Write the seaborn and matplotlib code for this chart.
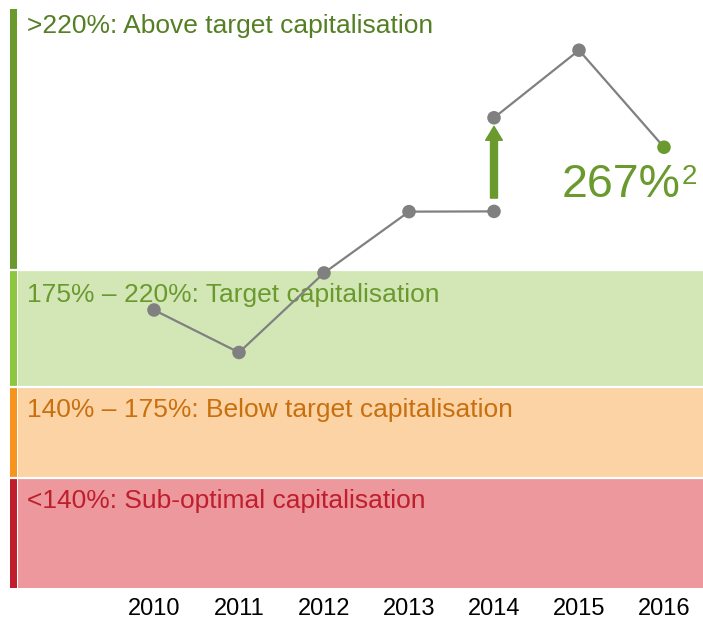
import matplotlib
matplotlib.use("Agg")
import matplotlib.pyplot as plt
import seaborn as sns
import pandas as pd

# Data
years = [2010, 2011, 2012, 2013, 2014, 2014, 2015, 2016]
ratios = [204.6, 188.3, 218.8, 242.3, 242.4, 278.3, 304.2, 267.0]
segments = ["a", "a", "a", "a", "a", "b", "b", "b"]
tick_years = [2010, 2011, 2012, 2013, 2014, 2015, 2016]
band_edges = [98, 140, 175, 220, 320]
band_labels = ["<140%: Sub-optimal capitalisation",
               "140% – 175%: Below target capitalisation",
               "175% – 220%: Target capitalisation",
               ">220%: Above target capitalisation"]
final_label = "267%"

sns.set_theme(style="white")
plt.rcParams['font.family'] = ['Liberation Sans', 'DejaVu Sans']

band_fill = ["#ec989c", "#fcd3a5", "#d3e7b6", "#ffffff"]
band_bar = ["#be1e2d", "#f7941d", "#8dc63f", "#6a9a2e"]
band_text = ["#be1e2d", "#c8700f", "#6a9a2e", "#557f24"]
green = "#6a9a2e"
gray = "#808080"

W, H = 703, 619
fig = plt.figure(figsize=(W / 100, H / 100), dpi=100)
ax = fig.add_axes([10 / W, (H - 588) / H, 693 / W, 579 / H])
xmin = 2010 - 144 / 85
xmax = 2016 + 39 / 85
ax.set_xlim(xmin, xmax)
ax.set_ylim(band_edges[0], band_edges[-1])

band_x0 = xmin + 8 / 85
bar_x1 = xmin + 7 / 85
for i in range(4):
    lo, hi = band_edges[i], band_edges[i + 1]
    ax.fill_between([band_x0, xmax], lo, hi, color=band_fill[i], lw=0, zorder=0)
    ax.fill_between([xmin, bar_x1], lo, hi, color=band_bar[i], lw=0, zorder=0)
for e in band_edges[1:-1]:
    ax.axhline(e, color="white", lw=1.6, zorder=1)

label_y = [131.5, 166.2, 210.4, 313.5]
for i in range(4):
    ax.text(xmin + 17 / 85, label_y[i], band_labels[i], color=band_text[i],
            fontsize=19, va="center", ha="left", zorder=2)

df = pd.DataFrame({"year": years, "ratio": ratios, "seg": segments})
sns.lineplot(data=df, x="year", y="ratio", units="seg", estimator=None,
             color=gray, lw=1.6, sort=False, ax=ax, zorder=3)
sns.scatterplot(data=df.iloc[:-1], x="year", y="ratio", color=gray, s=95,
                edgecolor="none", ax=ax, zorder=4)
sns.scatterplot(data=df.iloc[-1:], x="year", y="ratio", color=green, s=95,
                edgecolor="none", ax=ax, zorder=4)

ax.annotate("", xy=(2014, 275.0), xytext=(2014, 247.5),
            arrowprops=dict(width=5, headwidth=12, headlength=10,
                            color=green, shrink=0), zorder=5)

t = ax.text(2014.8, 248, final_label, color=green, fontsize=33.5,
            ha="left", va="baseline", zorder=5)
ax.annotate("2", xy=(1.0, 0.93), xycoords=t, xytext=(0.5, 1),
            textcoords="offset points", color=green, fontsize=20,
            ha="left", va="top", zorder=5)

ax.set_xticks(tick_years)
ax.set_xticklabels([str(y) for y in tick_years], fontsize=17, color="black")
ax.set_yticks([])
ax.tick_params(axis="x", length=0, pad=7)
ax.set_xlabel("")
ax.set_ylabel("")
for s in ax.spines.values():
    s.set_visible(False)

fig.savefig("out.png", dpi=100)
